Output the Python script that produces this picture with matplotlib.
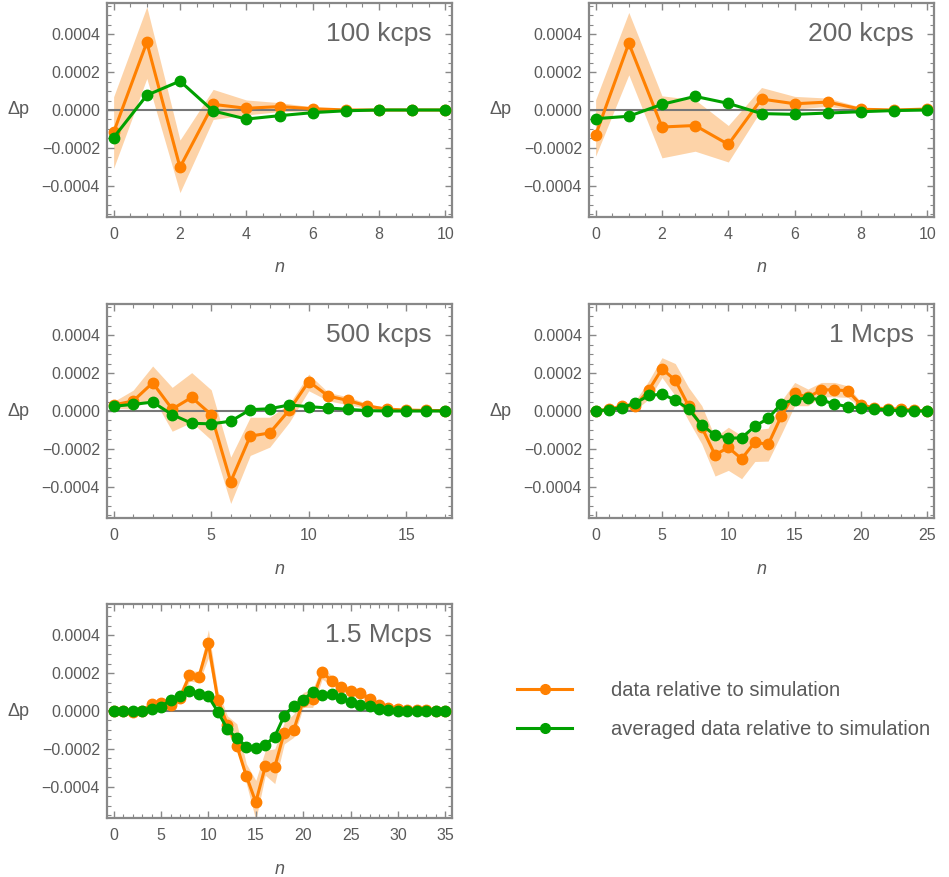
import matplotlib
matplotlib.use("Agg")
import matplotlib.pyplot as plt
from matplotlib.ticker import MultipleLocator, FixedLocator
from matplotlib.lines import Line2D
import numpy as np

plt.rcParams['font.family'] = ['Liberation Sans', 'DejaVu Sans']

# Δp values in units of 1e-4 for each count rate
titles = ["100 kcps", "200 kcps", "500 kcps", "1 Mcps", "1.5 Mcps"]

data_100k = [-1.18, 3.58, -3.03, 0.30, 0.09, 0.18, 0.07, 0.0, 0.0, 0.0, 0.0]
upper_100k = [0.70, 5.46, -1.59, 1.09, 0.53, 0.39, 0.16, 0.03, 0.01, 0.01, 0.01]
lower_100k = [-3.08, 1.67, -4.37, -0.50, -0.26, -0.09, -0.04, -0.03, -0.01, -0.01, -0.01]
avg_100k = [-1.46, 0.78, 1.53, -0.05, -0.48, -0.30, -0.14, -0.04, 0.0, 0.0, 0.0]

data_200k = [-1.33, 3.53, -0.90, -0.82, -1.82, 0.58, 0.33, 0.42, 0.04, 0.0, 0.05]
upper_200k = [0.54, 5.16, 0.75, 0.54, -0.82, 1.19, 0.72, 0.63, 0.15, 0.04, 0.08]
lower_200k = [-2.44, 1.86, -2.53, -2.18, -2.75, 0.02, 0.05, 0.19, -0.05, -0.04, 0.02]
avg_200k = [-0.46, -0.33, 0.30, 0.72, 0.35, -0.19, -0.23, -0.16, -0.09, -0.03, 0.0]

data_500k = [0.32, 0.53, 1.49, 0.10, 0.72, -0.19, -3.74, -1.33, -1.16, 0.05,
             1.56, 0.79, 0.56, 0.26, 0.10, 0.05, 0.03, 0.02]
upper_500k = [0.50, 1.10, 2.38, 1.25, 2.03, 1.12, -2.44, -0.33, -0.33, 0.37,
              1.95, 0.98, 0.75, 0.40, 0.18, 0.09, 0.06, 0.04]
lower_500k = [0.16, 0.10, 0.75, -1.07, -0.60, -1.53, -4.89, -2.35, -1.91, -0.60,
              1.07, 0.54, 0.33, 0.14, 0.03, 0.01, 0.0, 0.0]
avg_500k = [0.25, 0.35, 0.47, -0.19, -0.65, -0.68, -0.54, 0.07, 0.12, 0.32,
            0.23, 0.16, 0.09, 0.02, 0.0, 0.0, 0.0, 0.0]

data_1M = [0.0, 0.10, 0.25, 0.28, 1.10, 2.23, 1.63, 0.28, -0.86, -2.32,
           -1.93, -2.53, -1.65, -1.77, -0.26, 0.95, 0.72, 1.12, 1.12, 1.07,
           0.32, 0.16, 0.12, 0.10, 0.05, 0.0]
upper_1M = [0.04, 0.16, 0.35, 0.55, 1.60, 2.82, 2.51, 1.25, 0.28, -1.39,
            -0.86, -1.30, -1.00, -0.91, 0.54, 1.51, 1.16, 1.51, 1.51, 1.33,
            0.46, 0.25, 0.20, 0.16, 0.09, 0.03]
lower_1M = [-0.04, 0.04, 0.12, 0.05, 0.63, 1.77, 0.81, -0.51, -1.74, -3.44,
            -3.14, -3.58, -2.67, -2.65, -1.21, 0.28, 0.28, 0.75, 0.75, 0.72,
            0.16, 0.07, 0.04, 0.04, 0.01, -0.03]
avg_1M = [0.0, 0.07, 0.18, 0.42, 0.82, 0.89, 0.58, 0.10, -0.74, -1.28,
          -1.44, -1.42, -0.81, -0.39, 0.39, 0.60, 0.70, 0.58, 0.37, 0.23,
          0.16, 0.12, 0.05, 0.02, 0.0, 0.0]

data_15M = [0.0, 0.0, -0.07, 0.0, 0.35, 0.42, 0.32, 0.68, 1.89, 1.82,
            3.58, 0.58, -0.72, -1.84, -3.44, -4.82, -2.93, -2.96, -1.14, -1.00,
            0.54, 0.63, 2.04, 1.61, 1.26, 1.04, 0.95, 0.65, 0.32, 0.16,
            0.12, 0.07, 0.07, 0.04, 0.02, 0.0]
upper_15M = [0.03, 0.03, 0.0, 0.05, 0.50, 0.55, 0.50, 1.07, 2.11, 2.11,
             4.30, 1.07, -0.25, -0.68, -2.79, -3.67, -2.09, -2.00, -0.60, -0.16,
             0.98, 1.16, 2.38, 1.85, 1.45, 1.22, 1.12, 0.82, 0.45, 0.25,
             0.19, 0.13, 0.12, 0.08, 0.05, 0.03]
lower_15M = [-0.03, -0.03, -0.14, -0.05, 0.20, 0.28, 0.14, 0.46, 1.58, 1.51,
             2.82, 0.19, -1.14, -2.00, -3.84, -5.77, -3.40, -3.84, -1.74, -1.39,
             0.19, 0.19, 1.68, 1.37, 1.07, 0.86, 0.77, 0.47, 0.19, 0.07,
             0.05, 0.02, 0.02, 0.0, -0.01, -0.03]
avg_15M = [0.0, 0.0, 0.0, 0.0, 0.10, 0.23, 0.58, 0.81, 1.07, 0.89,
           0.77, -0.04, -0.96, -1.44, -1.88, -1.95, -1.79, -1.35, -0.25, 0.28,
           0.58, 1.02, 0.86, 0.89, 0.68, 0.47, 0.32, 0.28, 0.10, 0.05,
           0.02, 0.02, 0.0, 0.0, 0.0, 0.0]

panels = [
    (data_100k, upper_100k, lower_100k, avg_100k, 2, 0.5),
    (data_200k, upper_200k, lower_200k, avg_200k, 2, 0.5),
    (data_500k, upper_500k, lower_500k, avg_500k, 5, 1),
    (data_1M, upper_1M, lower_1M, avg_1M, 5, 1),
    (data_15M, upper_15M, lower_15M, avg_15M, 5, 1),
]

ORANGE = "#ff8000"
GREEN = "#00a000"
BAND = "#fdd3a8"
FRAME = "#888888"
TEXT = "#5a5a5a"
TITLE = "#666666"

W, H = 949, 877
fig = plt.figure(figsize=(W / 100, H / 100), dpi=100)

# axes boxes in pixels: (left, top, width, height)
boxes = [(107, 3, 345, 214), (589, 3, 345, 214),
         (107, 304, 345, 214), (589, 304, 345, 214),
         (107, 604, 345, 214)]

scale = 1e-4
for (d, up, lo, av, major, minor), title, (l, t, w, h) in zip(panels, titles, boxes):
    ax = fig.add_axes([l / W, 1 - (t + h) / H, w / W, h / H])
    n = np.arange(len(d))
    nmax = n[-1]
    pad = 0.02 * nmax
    ax.set_xlim(-pad, nmax + pad)
    ax.set_ylim(-0.000566, 0.000566)

    ax.fill_between(n, np.array(lo) * scale, np.array(up) * scale,
                    color=BAND, lw=0, zorder=1)
    ax.axhline(0, color="#777777", lw=1.5, zorder=2)
    ax.plot(n, np.array(d) * scale, color=ORANGE, lw=2.2, marker="o",
            ms=7.5, zorder=3, clip_on=False)
    ax.plot(n, np.array(av) * scale, color=GREEN, lw=2.2, marker="o",
            ms=7.5, zorder=4, clip_on=False)

    ax.xaxis.set_major_locator(MultipleLocator(major))
    ax.xaxis.set_minor_locator(MultipleLocator(minor))
    ax.yaxis.set_major_locator(FixedLocator([-0.0004, -0.0002, 0.0, 0.0002, 0.0004]))
    ax.yaxis.set_minor_locator(MultipleLocator(0.00005))
    ax.set_yticklabels(["\u22120.0004", "\u22120.0002", "0.0000", "0.0002", "0.0004"])

    ax.tick_params(which="both", direction="in", top=True, right=True,
                   color=FRAME, labelcolor=TEXT, labelsize=11.5)
    ax.tick_params(which="major", length=5, width=1.0)
    ax.tick_params(which="minor", length=3, width=0.8)
    ax.tick_params(axis="x", pad=7)
    ax.tick_params(axis="y", pad=5)
    for s in ax.spines.values():
        s.set_color(FRAME)
        s.set_linewidth(1.6)

    ax.text(1 - 20 / w, 1 - 31 / h, title, transform=ax.transAxes,
            ha="right", va="center", fontsize=19, color=TITLE)
    ax.text(-89 / w, 0.5, "\u0394p", transform=ax.transAxes,
            ha="center", va="center", fontsize=13, color=TEXT)
    ax.text(0.5, -51 / h, "n", transform=ax.transAxes, ha="center",
            va="center", fontsize=13, color=TEXT, style="italic")

handles = [
    Line2D([], [], color=ORANGE, lw=2.2, marker="o", ms=7),
    Line2D([], [], color=GREEN, lw=2.2, marker="o", ms=7),
]
fig.legend(handles, ["data relative to simulation",
                     "averaged data relative to simulation"],
           loc="center left", bbox_to_anchor=(499 / W, 1 - 710 / H),
           frameon=False, fontsize=14.5, labelcolor=TEXT,
           handlelength=2.73, handletextpad=1.94, labelspacing=1.0)

fig.savefig("out.png", dpi=100)
